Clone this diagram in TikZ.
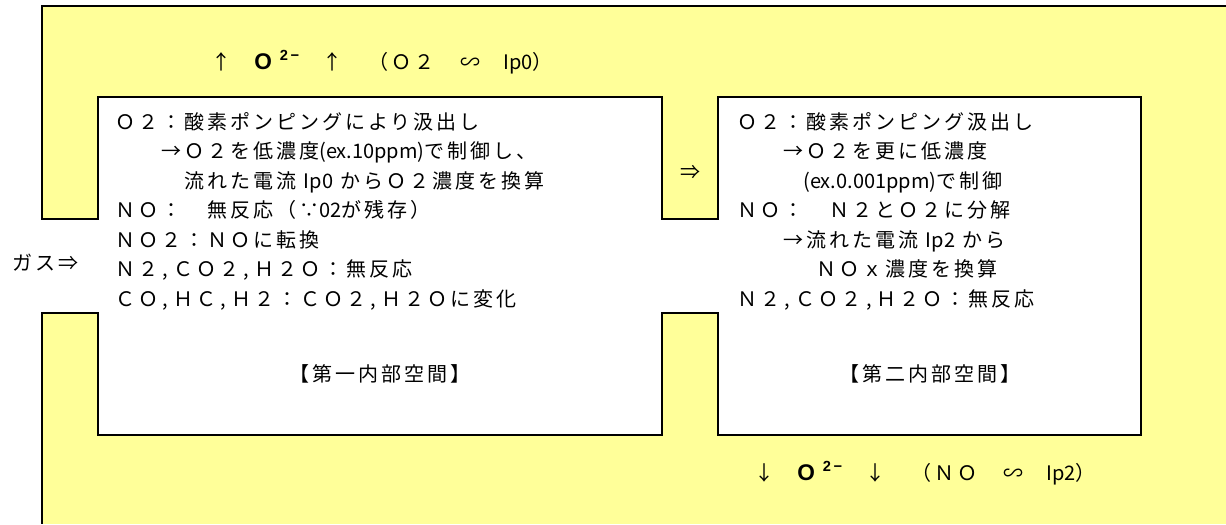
\documentclass[tikz,border=0pt]{standalone}
\usepackage{fontspec}
\setmainfont{Noto Sans CJK JP}[LetterSpace=15]
\newfontfamily\HalfFont{Noto Sans CJK JP}
\newfontfamily\IonFont{Liberation Sans}
\usepackage{tikz}
\definecolor{ChamberYellow}{HTML}{FFFF99}
\tikzstyle{ChamberLine}=[draw=black, line width=1.5pt, line join=miter]
\tikzstyle{TextNode}=[inner sep=0pt, align=left, anchor=north west, font=\fontsize{15pt}{22.1pt}\selectfont]
\tikzstyle{LabelNode}=[inner sep=0pt, font=\fontsize{15pt}{22.1pt}\selectfont]
\newcommand{\hw}[1]{{\HalfFont #1}}
\newcommand{\Cm}{\makebox[11.25pt][c]{,}}
\newcommand{\ion}{{\IonFont\bfseries{\fontsize{17pt}{17pt}\selectfont O}\hspace{6pt}\raisebox{0.45em}{\fontsize{11pt}{11pt}\selectfont 2\hspace{2pt}−}}}

\begin{document}
\begin{tikzpicture}[x=0.75pt, y=-0.75pt]
      \useasboundingbox (0,0) rectangle (1226,524);
      \fill[white] (0,0) rectangle (1226,524);
      \fill[ChamberYellow] (42,6) rectangle (1226,524);
      \fill[white] (42,219) -- (98,219) -- (98,97) -- (662,97) -- (662,219) -- (718,219) -- (718,97) -- (1141,97) -- (1141,435) -- (718,435) -- (718,313) -- (662,313) -- (662,435) -- (98,435) -- (98,313) -- (42,313) -- cycle;
      \draw[ChamberLine] (1226,6) -- (42,6) -- (42,219) -- (98,219) -- (98,97) -- (662,97) -- (662,219) -- (718,219) -- (718,97) -- (1141,97) -- (1141,435) -- (718,435) -- (718,313) -- (662,313) -- (662,435) -- (98,435) -- (98,313) -- (42,313) -- (42,524);
      \node[TextNode] (Text1) at (115,112) {Ｏ２：酸素ポンピングにより汲出し\\
　　→Ｏ２を低濃度\hw{(ex.10ppm)}で制御し、\\
　　　流れた電流 \hw{Ip0} からＯ２濃度を換算\\
ＮＯ：　無反応（∵\hw{02}が残存）\\
ＮＯ２：ＮＯに転換\\
Ｎ２\Cm ＣＯ２\Cm Ｈ２Ｏ：無反応\\
ＣＯ\Cm ＨＣ\Cm Ｈ２：ＣＯ２\Cm Ｈ２Ｏに変化};
      \node[TextNode] (Text2) at (737,112) {Ｏ２：酸素ポンピング汲出し\\
　　→Ｏ２を更に低濃度\\
　　　\hw{(ex.0.001ppm)}で制御\\
ＮＯ：　Ｎ２とＯ２に分解\\
　　→流れた電流 \hw{Ip2} から\\
　　　\hspace*{10pt}ＮＯｘ濃度を換算\\
Ｎ２\Cm ＣＯ２\Cm Ｈ２Ｏ：無反応};
      \node[LabelNode, anchor=base west] (Ion1) at (211,70) {↑　\ion　↑　（Ｏ２　∽　\hw{Ip0}）};
      \node[LabelNode, anchor=base west] (Ion2) at (754,480) {↓　\ion　↓　（ＮＯ　∽　\hw{Ip2}）};
      \node[LabelNode, anchor=base west] (Gas) at (12,270) {ガス⇒};
      \node[LabelNode, anchor=base] (Flow) at (690,179) {⇒};
      \node[LabelNode, anchor=base] (Room1) at (380,381) {【第一内部空間】};
      \node[LabelNode, anchor=base] (Room2) at (930,381) {【第二内部空間】};
    \end{tikzpicture}
\end{document}
